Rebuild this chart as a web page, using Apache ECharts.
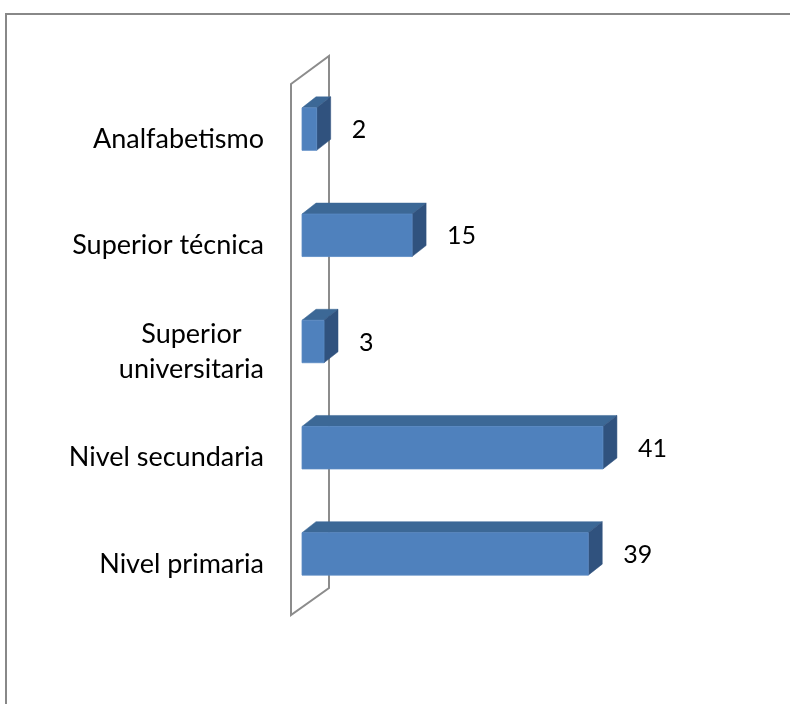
<!DOCTYPE html>
<html>
<head>
<meta charset="utf-8">
<style>
  html, body { margin: 0; padding: 0; background: #fff; }
  #chart { width: 790px; height: 704px; }
</style>
<script src="https://cdn.jsdelivr.net/npm/echarts@6/dist/echarts.min.js"></script>
</head>
<body>
<div id="chart"></div>
<script>
// Education level categories, top to bottom
const categories = [
  'Analfabetismo',
  'Superior técnica',
  'Superior\nuniversitaria',
  'Nivel secundaria',
  'Nivel primaria'
];
// Number of people in each category
const values = [2, 15, 3, 41, 39];

const FONT = 'Lato';
const DEPTH_X = 14;     // 3D extrusion of each bar (px)
const DEPTH_Y = 11;
const FRONT = '#4F81BD';
const TOP = '#3C6896';
const SIDE = '#30527E';

const chart = echarts.init(document.getElementById('chart'), null, { renderer: 'canvas' });

function renderBar(params, api) {
  const idx = api.value(0);
  const val = api.value(1);
  const p0 = api.coord([0, idx]);
  const p1 = api.coord([val, idx]);
  const band = api.size([0, 1])[1];
  const h = band * 0.4;
  const x0 = p0[0], x1 = p1[0];
  const top = p0[1] - h / 2, bot = p0[1] + h / 2;
  return {
    type: 'group',
    children: [
      {
        type: 'polygon',
        shape: { points: [[x0, top], [x0 + DEPTH_X, top - DEPTH_Y], [x1 + DEPTH_X, top - DEPTH_Y], [x1, top]] },
        style: { fill: TOP, stroke: TOP, lineWidth: 0.5 }
      },
      {
        type: 'polygon',
        shape: { points: [[x1, top], [x1 + DEPTH_X, top - DEPTH_Y], [x1 + DEPTH_X, bot - DEPTH_Y], [x1, bot]] },
        style: { fill: SIDE, stroke: SIDE, lineWidth: 0.5 }
      },
      {
        type: 'rect',
        shape: { x: x0, y: top, width: x1 - x0, height: h },
        style: { fill: FRONT, stroke: '#5A8AC4', lineWidth: 0.8 }
      },
      {
        type: 'text',
        x: x1 + DEPTH_X + 21,
        y: p0[1] + 1,
        style: {
          text: String(val),
          fill: '#000',
          font: '25px ' + FONT,
          textAlign: 'left',
          textVerticalAlign: 'middle'
        }
      }
    ]
  };
}

const option = {
  backgroundColor: '#fff',
  animation: false,
  grid: { left: 302, top: 76, width: 367, height: 531 },
  xAxis: {
    type: 'value',
    min: 0,
    max: 50,
    show: false
  },
  yAxis: {
    type: 'category',
    data: categories,
    inverse: true,
    axisLine: { show: false },
    axisTick: { show: false },
    splitLine: { show: false },
    axisLabel: {
      margin: 38,
      color: '#000',
      fontFamily: FONT,
      fontSize: 27,
      lineHeight: 35,
      padding: [20, 0, 0, 0],
      formatter: function (v) {
        return v.split('\n').map(function (s) { return '{c|' + s + '}'; }).join('\n');
      },
      rich: {
        c: { align: 'center', fontFamily: FONT, fontSize: 27, color: '#000', lineHeight: 35 }
      }
    }
  },
  graphic: [
    // chart frame
    {
      type: 'polyline',
      z: -10,
      shape: { points: [[6, 720], [6, 14], [792, 14]] },
      style: { stroke: '#888888', lineWidth: 2, fill: null }
    },
    // back wall behind the bars
    {
      type: 'polygon',
      z: -5,
      shape: { points: [[291, 84], [329, 56], [329, 588], [291, 615]] },
      style: { stroke: '#8C8C8C', lineWidth: 2, fill: null }
    }
  ],
  series: [
    {
      type: 'custom',
      renderItem: renderBar,
      encode: { x: 1, y: 0 },
      data: values.map(function (v, i) { return [i, v]; }),
      z: 5
    }
  ]
};

chart.setOption(option);
</script>
</body>
</html>
